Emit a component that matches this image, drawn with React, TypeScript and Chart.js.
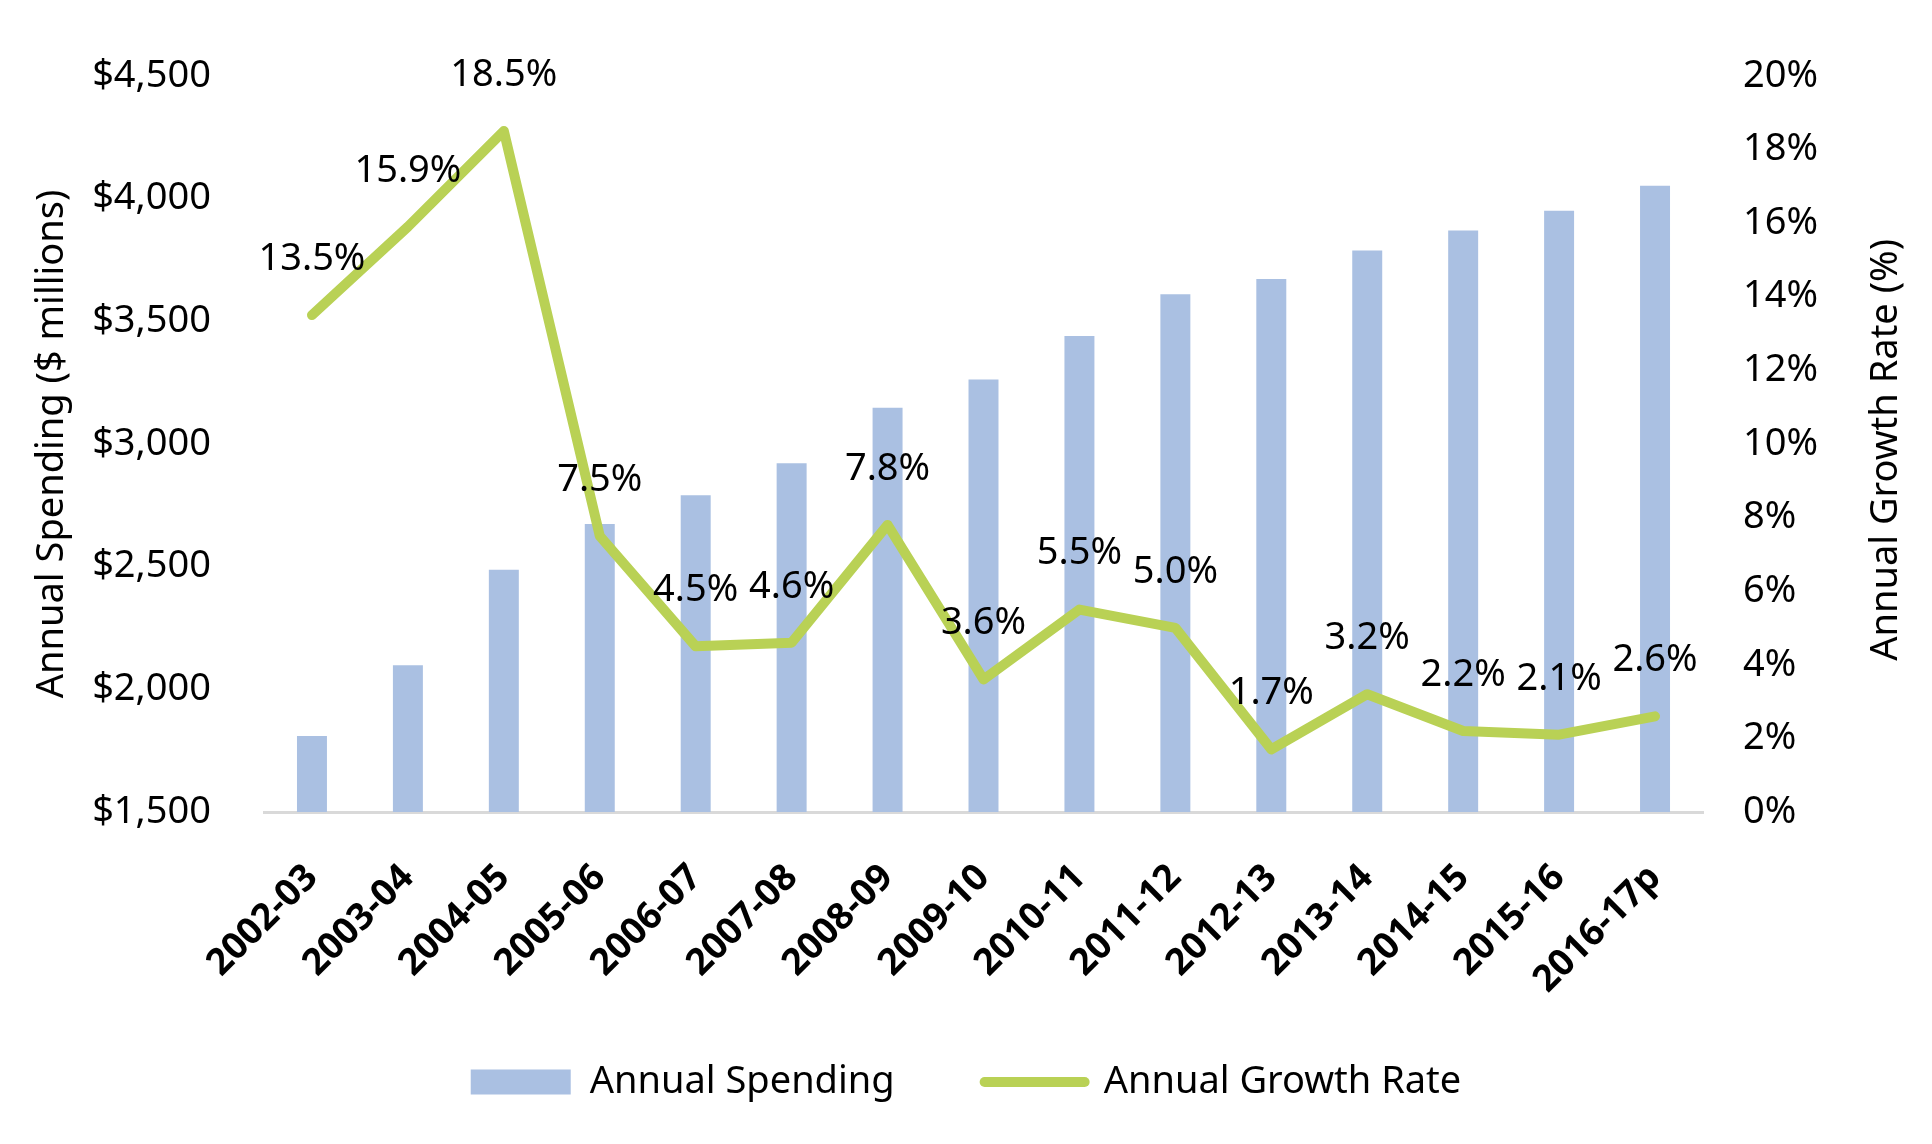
import React, { useEffect, useRef } from "react";
import { Chart, registerables } from "chart.js";

Chart.register(...registerables);

const categories = [
  "2002-03", "2003-04", "2004-05", "2005-06", "2006-07", "2007-08", "2008-09",
  "2009-10", "2010-11", "2011-12", "2012-13", "2013-14", "2014-15", "2015-16", "2016-17p",
];
const spending = [1810, 2098, 2487, 2674, 2791, 2921, 3147, 3262, 3440, 3610, 3672, 3788, 3870, 3950, 4052];
const growth = [13.5, 15.9, 18.5, 7.5, 4.5, 4.6, 7.8, 3.6, 5.5, 5.0, 1.7, 3.2, 2.2, 2.1, 2.6];

const spendingAxis = { min: 1500, max: 4500, step: 500 };
const growthAxis = { min: 0, max: 20, step: 2 };

const FONT = '"Noto Sans", sans-serif';
const BAR = "#AAC0E2";
const LINE = "#B9D155";
const TEXT = "#000000";

const growthLabels = {
  id: "growthLabels",
  afterDatasetsDraw(chart: any) {
    const meta = chart.getDatasetMeta(1);
    const ctx = chart.ctx;
    ctx.save();
    ctx.font = `38px ${FONT}`;
    ctx.fillStyle = TEXT;
    ctx.textAlign = "center";
    ctx.textBaseline = "middle";
    meta.data.forEach((pt: any, i: number) => {
      ctx.fillText(growth[i].toFixed(1) + "%", pt.x, pt.y - 56);
    });
    ctx.restore();
  },
};

const unclipX = {
  id: "unclipX",
  afterLayout(chart: any) {
    const x = chart.scales.x;
    if (x) x._computeLabelArea = () => undefined;
  },
};

const axisTitles = {
  id: "axisTitles",
  afterDraw(chart: any) {
    const { ctx, chartArea } = chart;
    const cy = (chartArea.top + chartArea.bottom) / 2;
    ctx.save();
    ctx.font = `38px ${FONT}`;
    ctx.fillStyle = TEXT;
    ctx.textAlign = "center";
    ctx.textBaseline = "alphabetic";
    ctx.save();
    ctx.translate(chart.scales.y.left + 63, cy);
    ctx.rotate(-Math.PI / 2);
    ctx.fillText("Annual Spending ($ millions)", 0, 0);
    ctx.restore();
    ctx.save();
    ctx.translate(chart.scales.y1.right - 35, cy + 6);
    ctx.rotate(-Math.PI / 2);
    ctx.fillText("Annual Growth Rate (%)", 0, 0);
    ctx.restore();
    ctx.restore();
  },
};

export default function App() {
  const ref = useRef<HTMLCanvasElement | null>(null);

  useEffect(() => {
    let chart: Chart | null = null;
    let cancelled = false;
    const make = () => {
      if (cancelled || !ref.current) return;
      chart = new Chart(ref.current, {
        type: "bar",
        data: {
          labels: categories,
          datasets: [
            {
              type: "bar",
              label: "Annual Spending",
              data: spending,
              backgroundColor: BAR,
              borderWidth: 0,
              barPercentage: 0.3125,
              categoryPercentage: 1,
              yAxisID: "y",
              order: 1,
            },
            {
              type: "line",
              label: "Annual Growth Rate",
              data: growth,
              borderColor: LINE,
              backgroundColor: LINE,
              borderWidth: 10,
              borderCapStyle: "round",
              borderJoinStyle: "round",
              pointRadius: 0,
              pointHoverRadius: 0,
              tension: 0,
              fill: false,
              yAxisID: "y1",
              order: 0,
            },
          ],
        } as any,
        options: {
          responsive: true,
          maintainAspectRatio: false,
          animation: false,
          layout: { padding: { top: 59, bottom: 33, left: 0, right: 0 } },
          font: { family: FONT },
          scales: {
            x: {
              offset: true,
              grid: { display: false, drawTicks: false },
              border: { display: true, color: "#D9D9D9", width: 3 },
              ticks: {
                color: TEXT,
                font: { family: FONT, size: 37, weight: "bold" },
                minRotation: 45,
                maxRotation: 45,
                autoSkip: false,
                padding: 44,
              },
              afterFit(scale: any) {
                scale.height = 161;
              },
            },
            y: {
              position: "left",
              min: spendingAxis.min,
              max: spendingAxis.max,
              grid: { display: false, drawTicks: false },
              border: { display: false },
              ticks: {
                stepSize: spendingAxis.step,
                color: TEXT,
                font: { family: FONT, size: 38 },
                padding: 53,
                callback: (v: any) => "$" + Number(v).toLocaleString("en-US"),
              },
              afterFit(scale: any) {
                scale.width = 264;
              },
            },
            y1: {
              position: "right",
              min: growthAxis.min,
              max: growthAxis.max,
              grid: { display: false, drawTicks: false },
              border: { display: false },
              ticks: {
                stepSize: growthAxis.step,
                color: TEXT,
                font: { family: FONT, size: 38 },
                padding: 40,
                callback: (v: any) => v + "%",
              },
              afterFit(scale: any) {
                scale.width = 229;
              },
            },
          },
          plugins: {
            tooltip: { enabled: false },
            legend: {
              position: "bottom",
              labels: {
                color: TEXT,
                font: { family: FONT, size: 38 },
                usePointStyle: true,
                pointStyleWidth: 100,
                boxHeight: 25,
                padding: 90,
                sort: (a: any, b: any) => a.datasetIndex - b.datasetIndex,
                generateLabels: (c: any) => {
                  const items = (Chart.defaults.plugins.legend.labels as any).generateLabels(c);
                  return items.map((it: any) =>
                    it.datasetIndex === 0
                      ? { ...it, pointStyle: "rect", lineWidth: 0, fillStyle: BAR }
                      : { ...it, pointStyle: "line", lineWidth: 10, strokeStyle: LINE, fillStyle: LINE, lineCap: "round" }
                  );
                },
              },
            },
          },
        } as any,
        plugins: [unclipX, growthLabels, axisTitles],
      });
    };
    const fonts = (document as any).fonts;
    if (fonts && fonts.load) {
      Promise.all([fonts.load(`38px ${FONT}`), fonts.load(`bold 37px ${FONT}`)]).then(make, make);
    } else {
      make();
    }
    return () => {
      cancelled = true;
      if (chart) chart.destroy();
    };
  }, []);

  return (
    <div style={{ position: "fixed", left: 0, top: 0, width: 1932, height: 1144, background: "#fff" }}>
      <canvas ref={ref} />
    </div>
  );
}
